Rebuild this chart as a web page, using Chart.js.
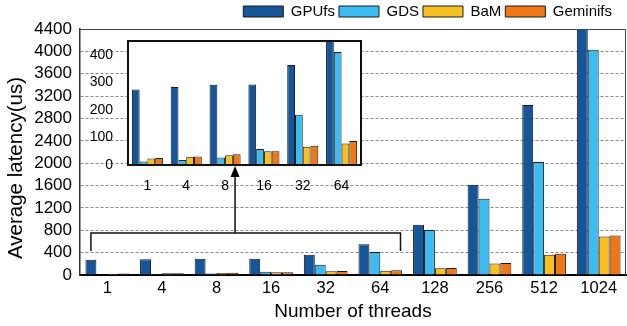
<!DOCTYPE html>
<html>
<head>
<meta charset="utf-8">
<script src="https://cdn.jsdelivr.net/npm/chart.js@4.4.0/dist/chart.umd.min.js"></script>
<style>
  html, body { margin: 0; padding: 0; background: #fff; }
  #wrap { position: relative; width: 627px; height: 326px; }
  #main { position: absolute; left: 0; top: 0; }
  #inset { position: absolute; left: 80px; top: 30px; }
</style>
</head>
<body>
<div id="wrap">
  <canvas id="main" width="627" height="326"></canvas>
  <canvas id="inset" width="290" height="170"></canvas>
</div>
<script>
const threads = ['1', '4', '8', '16', '32', '64', '128', '256', '512', '1024'];
const gpufs = [274, 283, 291, 292, 363, 551, 900, 1613, 3040, 4600];
const gds = [13, 18, 27, 58, 182, 410, 804, 1365, 2021, 4028];
const bam = [24, 30, 35, 50, 66, 78, 120, 205, 360, 690];
const geminifs = [25, 31, 39, 50, 70, 87, 126, 216, 378, 708];
const insetCount = 6;
const insetMax = 450;
const insetTicks = [0, 100, 200, 300, 400];

const names = ['GPUfs', 'GDS', 'BaM', 'Geminifs'];
const colors = ['#15559a', '#3bbdf3', '#f8bf21', '#f07716'];

Chart.defaults.font.family = 'Liberation Sans, Arial, sans-serif';
Chart.defaults.color = '#000';

function makeSets(n) {
  return [gpufs, gds, bam, geminifs].map((vals, i) => ({
    label: names[i],
    data: vals.slice(0, n),
    backgroundColor: colors[i],
    borderColor: '#1a1a1a',
    borderWidth: 1,
    categoryPercentage: 0.8,
    barPercentage: 1.0
  }));
}

const frame = {
  id: 'frame',
  afterLayout(chart) {
    // legend sits a bit left of the right edge, y title a bit low
    chart.legend.right -= 10;
    const s = chart.scales.y;
    if (!s._moved) {
      const orig = s.drawTitle.bind(s);
      s.drawTitle = function () {
        this.ctx.save();
        this.ctx.translate(0, 16);
        orig();
        this.ctx.restore();
      };
      s._moved = true;
    }
  },
  afterDraw(chart) {
    const {ctx, chartArea: a, scales} = chart;
    ctx.save();
    ctx.strokeStyle = '#444';
    ctx.lineWidth = 1;
    ctx.beginPath();
    ctx.moveTo(a.left, a.top + 0.5);
    ctx.lineTo(a.right - 0.5, a.top + 0.5);
    ctx.lineTo(a.right - 0.5, a.bottom);
    ctx.stroke();

    // bracket around the small thread counts + arrow to the inset
    const x = scales.x, y = scales.y;
    const step = x.getPixelForValue(1) - x.getPixelForValue(0);
    const l = x.getPixelForValue(0) - 0.3 * step;
    const r = x.getPixelForValue(insetCount - 1) + 0.37 * step;
    const top = y.getPixelForValue(750);
    const leg = y.getPixelForValue(430);
    const ax = x.getPixelForValue(2) + 0.34 * step;
    ctx.strokeStyle = '#111';
    ctx.lineWidth = 1.5;
    ctx.beginPath();
    ctx.moveTo(l, leg);
    ctx.lineTo(l, top);
    ctx.lineTo(r, top);
    ctx.lineTo(r, leg);
    ctx.moveTo(ax, top);
    ctx.lineTo(ax, 175);
    ctx.stroke();
    ctx.fillStyle = '#000';
    ctx.beginPath();
    ctx.moveTo(ax, 166);
    ctx.lineTo(ax - 4.5, 177);
    ctx.lineTo(ax + 4.5, 177);
    ctx.closePath();
    ctx.fill();
    ctx.restore();
  }
};

new Chart(document.getElementById('main'), {
  type: 'bar',
  data: {labels: threads, datasets: makeSets(threads.length)},
  plugins: [frame],
  options: {
    responsive: false,
    animation: false,
    devicePixelRatio: 1,
    layout: {padding: {top: 0, right: 1, bottom: 0, left: 0}},
    plugins: {
      tooltip: {enabled: false},
      legend: {
        position: 'top',
        align: 'end',
        labels: {boxWidth: 40, boxHeight: 11, padding: 4, font: {size: 15}, color: '#000'}
      }
    },
    scales: {
      x: {
        grid: {display: false, drawTicks: false},
        border: {color: '#000', width: 2},
        ticks: {font: {size: 16.5}, padding: 4},
        title: {display: true, text: 'Number of threads', font: {size: 19}, padding: {top: 0, bottom: 3}},
        afterFit(s) { s.height = 51; }
      },
      y: {
        min: 0,
        max: 4400,
        ticks: {stepSize: 400, autoSkip: false, font: {size: 17}, padding: 8, callback: v => String(v)},
        grid: {color: '#8a8a8a', lineWidth: 1, drawTicks: false},
        border: {color: '#333', width: 1.5, dash: [3, 2], display: true},
        title: {display: true, text: 'Average latency(us)', font: {size: 20.5}, padding: {top: 4, bottom: 0}},
        afterFit(s) { s.width = 80; }
      }
    }
  }
});

const insetBox = {
  id: 'insetBox',
  beforeDraw(chart) {
    const {ctx, chartArea: a} = chart;
    ctx.save();
    ctx.fillStyle = '#fff';
    ctx.fillRect(a.left, a.top, a.right - a.left, a.bottom - a.top);
    ctx.restore();
  },
  afterDraw(chart) {
    const {ctx, chartArea: a} = chart;
    ctx.save();
    ctx.strokeStyle = '#111';
    ctx.lineWidth = 2;
    ctx.strokeRect(a.left, a.top, a.right - a.left, a.bottom - a.top);
    ctx.restore();
  }
};

new Chart(document.getElementById('inset'), {
  type: 'bar',
  data: {labels: threads.slice(0, insetCount), datasets: makeSets(insetCount)},
  plugins: [insetBox],
  options: {
    responsive: false,
    animation: false,
    devicePixelRatio: 1,
    layout: {padding: {top: 11, right: 9, bottom: 0, left: 0}},
    plugins: {legend: {display: false}, tooltip: {enabled: false}},
    scales: {
      x: {
        grid: {display: false, drawTicks: false},
        border: {display: false},
        ticks: {font: {size: 14}, padding: 13},
        afterFit(s) { s.height = 35; s.paddingLeft = 0; s.paddingRight = 0; }
      },
      y: {
        min: 0,
        max: insetMax,
        grid: {display: false, drawTicks: false},
        border: {display: false},
        ticks: {autoSkip: false, font: {size: 14}, padding: 15},
        afterBuildTicks(s) { s.ticks = insetTicks.map(v => ({value: v})); },
        afterFit(s) { s.width = 48; s.paddingTop = 0; s.paddingBottom = 0; }
      }
    }
  }
});
</script>
</body>
</html>
